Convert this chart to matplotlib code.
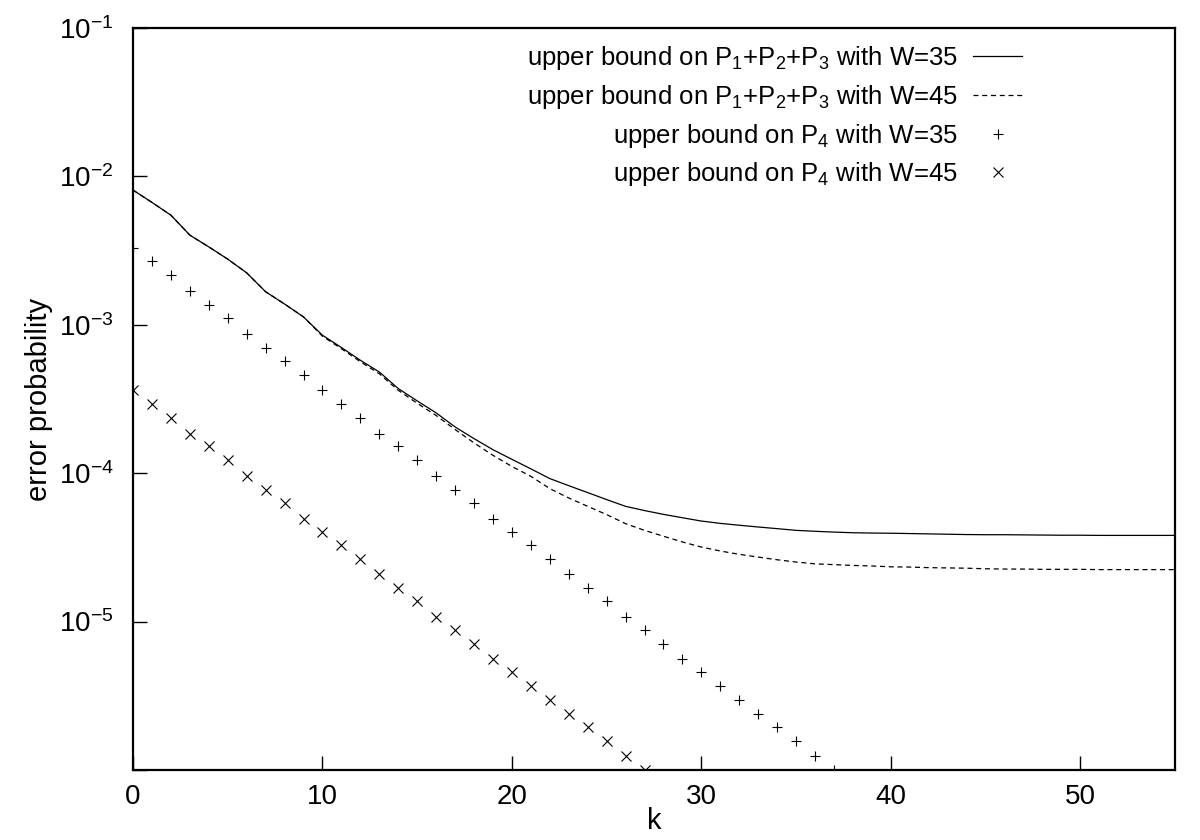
import matplotlib
matplotlib.use("Agg")
import matplotlib.pyplot as plt
from matplotlib.ticker import FixedLocator, FixedFormatter, NullLocator

FONT = 'Liberation Sans'
plt.rcParams['font.family'] = [FONT, 'DejaVu Sans']
plt.rcParams['mathtext.fontset'] = 'custom'
plt.rcParams['mathtext.rm'] = FONT
plt.rcParams['mathtext.it'] = FONT
plt.rcParams['mathtext.default'] = 'regular'

# ---- data ----
k_line = list(range(0, 56))
bound123_w35 = [8.09e-3, 6.68e-3, 5.48e-3, 4.02e-3, 3.35e-3, 2.77e-3, 2.24e-3, 1.67e-3,
                1.38e-3, 1.13e-3, 8.51e-4, 7.03e-4, 5.77e-4, 4.81e-4, 3.72e-4, 3.07e-4,
                2.55e-4, 2.05e-4, 1.71e-4, 1.44e-4, 1.24e-4, 1.07e-4, 9.20e-5, 8.24e-5,
                7.40e-5, 6.64e-5, 5.98e-5, 5.60e-5, 5.28e-5, 5.01e-5, 4.76e-5, 4.59e-5,
                4.46e-5, 4.34e-5, 4.23e-5, 4.12e-5, 4.06e-5, 4.01e-5, 3.97e-5, 3.95e-5,
                3.94e-5, 3.92e-5, 3.90e-5, 3.88e-5, 3.86e-5, 3.85e-5, 3.85e-5, 3.84e-5,
                3.83e-5, 3.82e-5, 3.82e-5, 3.81e-5, 3.81e-5, 3.81e-5, 3.81e-5, 3.81e-5]
bound123_w45 = [8.09e-3, 6.68e-3, 5.48e-3, 4.02e-3, 3.35e-3, 2.77e-3, 2.24e-3, 1.67e-3,
                1.38e-3, 1.13e-3, 8.38e-4, 6.90e-4, 5.64e-4, 4.68e-4, 3.62e-4, 2.96e-4,
                2.45e-4, 1.97e-4, 1.60e-4, 1.32e-4, 1.11e-4, 9.53e-5, 7.87e-5, 6.81e-5,
                5.98e-5, 5.26e-5, 4.57e-5, 4.12e-5, 3.76e-5, 3.44e-5, 3.18e-5, 2.99e-5,
                2.84e-5, 2.72e-5, 2.61e-5, 2.52e-5, 2.45e-5, 2.42e-5, 2.39e-5, 2.37e-5,
                2.34e-5, 2.33e-5, 2.31e-5, 2.30e-5, 2.29e-5, 2.27e-5, 2.26e-5, 2.26e-5,
                2.25e-5, 2.25e-5, 2.25e-5, 2.24e-5, 2.24e-5, 2.24e-5, 2.24e-5, 2.24e-5]

k_p4_w35 = list(range(0, 38))
p4_w35 = [3.30e-3, 2.69e-3, 2.16e-3, 1.69e-3, 1.36e-3, 1.11e-3, 8.69e-4, 6.98e-4,
          5.69e-4, 4.57e-4, 3.62e-4, 2.92e-4, 2.37e-4, 1.85e-4, 1.52e-4, 1.22e-4,
          9.53e-5, 7.74e-5, 6.30e-5, 4.94e-5, 3.99e-5, 3.27e-5, 2.64e-5, 2.09e-5,
          1.68e-5, 1.37e-5, 1.08e-5, 8.77e-6, 7.10e-6, 5.62e-6, 4.56e-6, 3.70e-6,
          2.94e-6, 2.39e-6, 1.94e-6, 1.57e-6, 1.24e-6, 1.00e-6]

k_p4_w45 = list(range(0, 28))
p4_w45 = [3.62e-4, 2.92e-4, 2.37e-4, 1.85e-4, 1.52e-4, 1.22e-4, 9.53e-5, 7.74e-5,
          6.30e-5, 4.94e-5, 3.99e-5, 3.27e-5, 2.64e-5, 2.09e-5, 1.68e-5, 1.37e-5,
          1.08e-5, 8.77e-6, 7.10e-6, 5.62e-6, 4.56e-6, 3.70e-6, 2.94e-6, 2.39e-6,
          1.94e-6, 1.57e-6, 1.24e-6, 1.00e-6]

labels = ['upper bound on P$_1$+P$_2$+P$_3$ with W=35',
          'upper bound on P$_1$+P$_2$+P$_3$ with W=45',
          'upper bound on P$_4$ with W=35',
          'upper bound on P$_4$ with W=45']

x_ticks = [0, 10, 20, 30, 40, 50]
y_ticks = [1e-6, 1e-5, 1e-4, 1e-3, 1e-2, 1e-1]
y_ticklabels = ['', '$10^{-5}$', '$10^{-4}$', '$10^{-3}$', '$10^{-2}$', '$10^{-1}$']

# ---- figure ----
fig = plt.figure(figsize=(12, 8.4), dpi=100)
ax = fig.add_axes([133/1200, 1-770/840, (1175-133)/1200, (770-28)/840])

ax.plot(k_line, bound123_w35, color='black', lw=0.9, label=labels[0])
ax.plot(k_line, bound123_w45, color='black', lw=0.9, dashes=(4, 3), label=labels[1])
ax.plot(k_p4_w35, p4_w35, linestyle='none', marker='+', color='black',
        markersize=7, markeredgewidth=0.8, label=labels[2])
ax.plot(k_p4_w45, p4_w45, linestyle='none', marker='x', color='black',
        markersize=6.5, markeredgewidth=0.8, label=labels[3])

ax.set_yscale('log')
ax.set_xlim(0, 55)
ax.set_ylim(1e-6, 1e-1)

ax.xaxis.set_major_locator(FixedLocator(x_ticks))
ax.yaxis.set_major_locator(FixedLocator(y_ticks))
ax.yaxis.set_major_formatter(FixedFormatter(y_ticklabels))
ax.yaxis.set_minor_locator(NullLocator())
ax.xaxis.set_minor_locator(NullLocator())

ax.tick_params(axis='both', which='major', direction='in', length=10, width=1.0,
               labelsize=20, top=False, right=False, color='black')
ax.tick_params(axis='x', pad=10)
ax.tick_params(axis='y', pad=14)

for s in ax.spines.values():
    s.set_linewidth(1.6)
    s.set_color('black')

ax.set_xlabel('k', fontsize=21, labelpad=-2)
ax.set_ylabel('error probability', fontsize=21, labelpad=4)

leg = ax.legend(loc='upper right', bbox_to_anchor=((1022-133)/1042, (770-44)/742),
                frameon=False, markerfirst=False, fontsize=18.5, handlelength=1.9,
                handletextpad=0.6, labelspacing=0.42, borderpad=0, borderaxespad=0,
                numpoints=1)

fig.savefig('out.png', dpi=100)
